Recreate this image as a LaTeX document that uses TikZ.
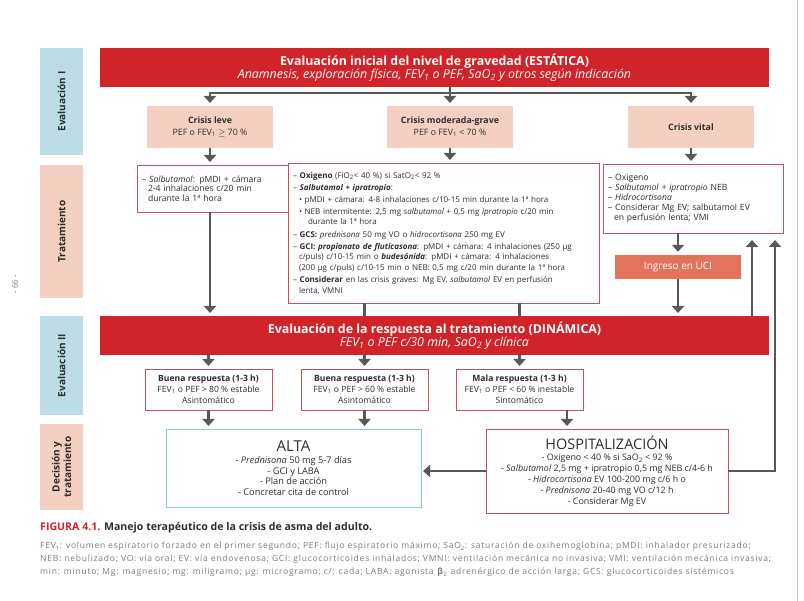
\documentclass[tikz,border=0pt]{standalone}
\usepackage{fontspec}
\setmainfont{Open Sans}
\usetikzlibrary{arrows.meta, positioning, calc}

\newcommand{\dn}[1]{\textsubscript{#1}}
\newcommand{\indA}{\hspace*{6pt}}
\newcommand{\indB}{\hspace*{15pt}}

\begin{document}
\begin{tikzpicture}[x=1pt, y=-1pt,
  % ---- styles ----
  side/.style 2 args={%
    fill=#1, minimum width=#2, minimum height=43pt, rotate=90,
    inner sep=0pt, outer sep=0pt, text=txt, align=center,
    font=\fontsize{10}{11.5}\selectfont\bfseries,
  },
  header/.style={%
    fill=hdr, minimum width=669pt, minimum height=39pt, anchor=north west,
    inner sep=0pt, outer sep=0pt, text=white, align=center,
  },
  crisis/.style={%
    fill=peach, minimum width=126pt, minimum height=42pt, anchor=north west,
    inner sep=0pt, outer sep=0pt, text=txt, align=center,
    font=\fontsize{8.8}{11.5}\selectfont,
  },
  treat/.style 2 args={%
    draw=boxred, line width=0.9pt, fill=white, text width=#1, minimum height=#2,
    anchor=north west, inner xsep=5pt, inner ysep=3pt, outer sep=0pt,
    text=txt, align=left,
  },
  answer/.style={%
    draw=boxred, line width=0.9pt, fill=white, minimum width=127pt,
    minimum height=41pt, inner sep=0pt, outer sep=0pt, text=txt, align=center,
    font=\fontsize{8.6}{10.8}\selectfont,
  },
  final/.style n args={3}{%
    draw=#1, line width=0.9pt, fill=white, minimum width=#2, minimum height=#3,
    anchor=north west, inner sep=0pt, outer sep=0pt, text=txt, align=center,
  },
  conn/.style={draw=con, line width=2.4pt},
  arr/.style={conn, -{Triangle[width=12pt, length=7pt]}, shorten >=3pt},
]

% ---- colour palette ----
\definecolor{hdr}{HTML}{D1232A}      % red headers
\definecolor{peach}{HTML}{F4D0C2}    % crisis boxes, side labels
\definecolor{sideblue}{HTML}{BCDDE6} % evaluation side labels
\definecolor{boxred}{HTML}{C9505A}   % treatment borders
\definecolor{altablue}{HTML}{8CC8D6} % discharge border
\definecolor{uci}{HTML}{E4735E}      % ICU box
\definecolor{con}{HTML}{58585A}      % connectors
\definecolor{txt}{HTML}{2E2E2E}
\definecolor{legend}{HTML}{7A7A7A}

\useasboundingbox (0,0) rectangle (804,601);

% page edge and page number
\draw[gray!45, line width=0.8pt] (797,0) -- (797,601);
\node[rotate=90, font=\fontsize{8}{9}\selectfont, text=legend] (pgnum) at (15,284) {- 66 -};

% =========================================================
% side labels
% =========================================================
\node[side={sideblue}{107pt}] (sEvI)  at (61.5,101.5) {Evaluación I};
\node[side={peach}{133pt}]    (sTrat) at (61.5,231.5) {Tratamiento};
\node[side={sideblue}{99pt}]  (sEvII) at (61.5,365.5) {Evaluación II};
\node[side={peach}{86pt}]     (sDec)  at (61.5,467)   {Decisión y\\tratamiento};

% =========================================================
% Evaluación I
% =========================================================
\node[header] (hdrI) at (100,48)
  {\fontsize{12.4}{14}\selectfont\textbf{Evaluación inicial del nivel de gravedad (ESTÁTICA)}\\
   \fontsize{12.4}{14}\selectfont\textit{Anamnesis, exploración física, FEV\dn{1} o PEF, SaO\dn{2} y otros según indicación}};

\node[crisis] (leve)  at (147,106) {\textbf{Crisis leve}\\PEF o FEV\dn{1} $\geq$ 70 \%};
\node[crisis] (modg)  at (387,106) {\textbf{Crisis moderada-grave}\\PEF o FEV\dn{1} < 70 \%};
\node[crisis] (vital) at (628,106) {\textbf{Crisis vital}};

\coordinate (busI) at (450,93);
\draw[arr] (busI) -| (leve.north);
\draw[arr] (busI) -| (vital.north);
\draw[arr] (hdrI.south -| modg.north) -- (modg.north);

% =========================================================
% Tratamiento
% =========================================================
\node[treat={150pt}{47pt}, font=\fontsize{8.6}{9.6}\selectfont] (tleve) at (137,165)
  {– \textit{Salbutamol}: pMDI + cámara\\
   \indA 2-4 inhalaciones c/20 min\\
   \indA durante la 1ª hora};

\node[treat={301pt}{140pt}, font=\fontsize{8}{10.6}\selectfont] (tmod) at (288,163)
  {– \textbf{Oxigeno} (FiO\dn{2}< 40 \%) si SatO\dn{2}< 92 \%\\[1.5pt]
   – \textbf{\textit{Salbutamol + ipratropio}}:\\[1.5pt]
   \indA • pMDI + cámara: 4-8 inhalaciones c/10-15 min durante la 1ª hora\\[1.5pt]
   \indA • NEB intermitente: 2,5 mg \textit{salbutamol} + 0,5 mg \textit{ipratropio} c/20 min\\
   \indB durante la 1ª hora\\[1.5pt]
   – \textbf{GCS:} \textit{prednisona} 50 mg VO o \textit{hidrocortisona} 250 mg EV\\[1.5pt]
   – \textbf{GCI:} \textbf{\textit{propionato de fluticasona}}: pMDI + cámara: 4 inhalaciones (250 µg\\
   \indA c/puls) c/10-15 min o \textbf{\textit{budesónida}}: pMDI + cámara: 4 inhalaciones\\
   \indA (200 µg c/puls) c/10-15 min o NEB: 0,5 mg c/20 min durante la 1ª hora\\[1.5pt]
   – \textbf{Considerar} en las crisis graves: Mg EV, \textit{salbutamol} EV en perfusión\\
   \indA lenta, VMNI};

\node[treat={170pt}{69pt}, font=\fontsize{8.6}{10}\selectfont] (tvit) at (603,164)
  {– Oxigeno\\
   – \textit{Salbutamol + ipratropio} NEB\\
   – \textit{Hidrocortisona}\\
   – Considerar Mg EV; salbutamol EV\\
   \indA en perfusión lenta; VMI};

\node[fill=uci, minimum width=126pt, minimum height=24pt, inner sep=0pt,
      text=white, font=\fontsize{10}{11}\selectfont] (uci) at (678,267) {Ingreso en UCI};

\draw[arr] (leve.south) -- (tleve.north -| leve.south);
\draw[arr] (modg.south) -- (tmod.north -| modg.south);
\draw[arr] (vital.south) -- (tvit.north -| vital.south);
\draw[arr] (tvit.south -| uci.north) -- (uci.north);

% =========================================================
% Evaluación II
% =========================================================
\node[header] (hdrII) at (100,316)
  {\fontsize{12.4}{14}\selectfont\textbf{Evaluación de la respuesta al tratamiento (DINÁMICA)}\\
   \fontsize{12.4}{14}\selectfont\textit{FEV\dn{1} o PEF c/30 min, SaO\dn{2} y clínica}};

\node[answer, anchor=north west] (resp1) at (145,369)
  {\textbf{Buena respuesta (1-3 h)}\\FEV\dn{1} o PEF > 80 \% estable\\Asintomático};
\node[answer, right=29pt of resp1] (resp2)
  {\textbf{Buena respuesta (1-3 h)}\\FEV\dn{1} o PEF > 60 \% estable\\Asintomático};
\node[answer, right=28pt of resp2] (resp3)
  {\textbf{Mala respuesta (1-3 h)}\\FEV\dn{1} o PEF < 60 \% inestable\\Sintomático};

\draw[arr] (tleve.south -| leve.south) -- (hdrII.north -| leve.south);
\draw[conn] (tmod.south -| resp2.north) -- (hdrII.north -| resp2.north);
\draw[conn] (tmod.south -| resp3.north) -- (hdrII.north -| resp3.north);
\draw[arr] (uci.south) -- (hdrII.north -| uci.south);
\foreach \rb in {resp1,resp2,resp3}
  \draw[arr] (hdrII.south -| \rb.north) -- (\rb.north);

% =========================================================
% Decisión y tratamiento
% =========================================================
\node[final={altablue}{255pt}{78pt}, font=\fontsize{9.2}{10.4}\selectfont] (alta) at (166,429)
  {{\fontsize{15}{17}\selectfont ALTA}\\[2pt]
   - \textit{Prednisona} 50 mg 5-7 días\\
   - GCI y LABA\\
   - Plan de acción\\
   - Concretar cita de control};

\node[final={boxred}{242pt}{84pt}, font=\fontsize{8.9}{10.8}\selectfont] (hosp) at (486,429)
  {{\fontsize{14.5}{17}\selectfont HOSPITALIZACIÓN}\\[1pt]
   - Oxigeno < 40 \% si SaO\dn{2} < 92 \%\\
   - \textit{Salbutamol} 2,5 mg + ipratropio 0,5 mg NEB c/4-6 h\\
   - \textit{Hidrocortisona} EV 100-200 mg c/6 h o\\
   - \textit{Prednisona} 20-40 mg VO c/12 h\\
   - Considerar Mg EV};

\coordinate (dropC) at (567,420);
\coordinate (riseA) at (752,300);
\coordinate (riseB) at (775,300);

\draw[arr] (resp1.south) -- (alta.north -| resp1.south);
\draw[arr] (resp2.south) -- (alta.north -| resp2.south);
\draw[arr] (resp3.south -| dropC) -- (hosp.north -| dropC);
\draw[arr, shorten >=2pt] (hosp.west) -- (hosp.west -| alta.east);
\draw[arr, shorten >=7pt] (hdrII.north -| riseA) -- (tvit.south -| riseA);
\draw[arr, shorten >=7pt] (hosp.east) -| (tvit.south -| riseB);

% =========================================================
% caption
% =========================================================
\node[anchor=west, inner sep=0pt, text=txt, font=\fontsize{10.6}{12}\selectfont\bfseries] (capt)
  at (40,528) {\textcolor{hdr}{FIGURA 4.1.} Manejo terapéutico de la crisis de asma del adulto.};
\node[anchor=north west, inner sep=0pt, align=left, text=legend,
      font=\fontsize{8.5}{13}\selectfont\addfontfeature{LetterSpace=9}] (legend) at (40,542)
  {FEV\dn{1}: volumen espiratorio forzado en el primer segundo; PEF: flujo espiratorio máximo; SaO\dn{2}: saturación de oxihemoglobina; pMDI: inhalador presurizado;\\
   NEB: nebulizado; VO: vía oral; EV: vía endovenosa; GCI: glucocorticoides inhalados; VMNI: ventilación mecánica no invasiva; VMI: ventilación mecánica invasiva;\\
   min: minuto; Mg: magnesio; mg: miligramo; µg: microgramo; c/: cada; LABA: agonista \textbf{β}\dn{2} adrenérgico de acción larga; GCS: glucocorticoides sistémicos};

\end{tikzpicture}
\end{document}
